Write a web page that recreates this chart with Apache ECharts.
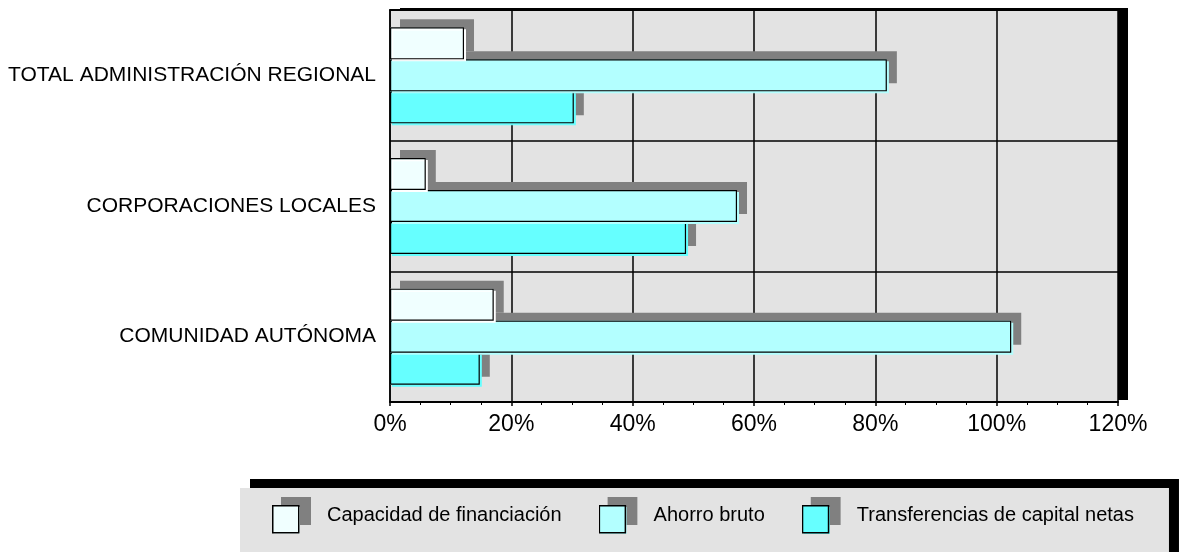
<!DOCTYPE html>
<html>
<head>
<meta charset="utf-8">
<script src="https://cdn.jsdelivr.net/npm/echarts@6/dist/echarts.min.js"></script>
<style>
  html, body { margin: 0; padding: 0; background: #fff; }
  #chart { width: 1180px; height: 552px; }
</style>
</head>
<body>
<div id="chart"></div>
<script>
// categorias (de abajo hacia arriba en el eje)
const categorias = ['COMUNIDAD AUTÓNOMA', 'CORPORACIONES LOCALES', 'TOTAL ADMINISTRACIÓN REGIONAL']
// valores en %
const capacidad = [17.1, 5.9, 12.2]
const ahorro = [102.4, 57.2, 81.9]
const transferencias = [14.8, 48.8, 30.3]
const nombres = ['Capacidad de financiación', 'Ahorro bruto', 'Transferencias de capital netas']
const xTicks = [0, 20, 40, 60, 80, 100, 120]

const colores = ['#f0ffff', '#b3ffff', '#66ffff']
const brillo = ['#ffffff', '#b3ffff', '#66ffff']

// icono de leyenda: cuadro con sombra gris
function icono (fill) {
  let svg = '<svg xmlns="http://www.w3.org/2000/svg" width="39" height="37" viewBox="0 0 39 37">' +
    '<rect x="9" y="0" width="30" height="28" fill="#808080"/>' +
    '<rect x="2" y="10" width="26" height="27" fill="' + fill + '"/>' +
    '<rect x="0.75" y="8.75" width="26" height="27" fill="' + fill + '" stroke="#000" stroke-width="1.5"/>' +
    '</svg>'
  return 'image://data:image/svg+xml;charset=utf-8,' + encodeURIComponent(svg)
}

// barra con borde (eje 0)
function barra (i, data, z) {
  return {
    name: nombres[i],
    type: 'bar',
    yAxisIndex: 0,
    data: data,
    barWidth: 32,
    barGap: '0%',
    z: z,
    itemStyle: {
      color: colores[i],
      borderColor: '#000',
      borderWidth: 1.2,
      shadowBlur: 0,
      shadowColor: brillo[i],
      shadowOffsetX: 2,
      shadowOffsetY: 2
    },
    emphasis: { disabled: true },
    silent: true,
    animation: false
  }
}

// sombra gris de la barra (eje 1, mismo layout)
function sombra (i, data, z) {
  return {
    name: nombres[i] + ' (sombra)',
    type: 'bar',
    yAxisIndex: 1,
    data: data,
    barWidth: 32,
    barGap: '0%',
    z: z,
    itemStyle: {
      color: colores[i],
      borderWidth: 0,
      shadowBlur: 0,
      shadowColor: '#808080',
      shadowOffsetX: 10,
      shadowOffsetY: -8
    },
    emphasis: { disabled: true },
    silent: true,
    animation: false
  }
}

let chart = echarts.init(document.getElementById('chart'))
chart.setOption({
  backgroundColor: '#fff',
  textStyle: { fontFamily: 'Liberation Sans, Arial, sans-serif' },
  grid: {
    left: 390,
    right: 62,
    top: 10,
    bottom: 150,
    show: true,
    backgroundColor: '#e3e3e3',
    borderWidth: 0,
    shadowBlur: 0,
    shadowColor: '#000',
    shadowOffsetX: 10,
    shadowOffsetY: -2
  },
  xAxis: [
    {
      type: 'value',
      min: xTicks[0],
      max: xTicks[xTicks.length - 1],
      interval: 20,
      axisLine: { show: true, lineStyle: { color: '#000', width: 2 } },
      axisTick: { show: true, length: 4, lineStyle: { color: '#000', width: 1.5 } },
      minorTick: { show: true, splitNumber: 4, length: 3, lineStyle: { color: '#000', width: 1 } },
      splitLine: { show: true, lineStyle: { color: '#000', width: 1.5 } },
      axisLabel: { formatter: '{value}%', fontSize: 23, color: '#000', margin: 11 }
    },
    {
      // borde superior del area
      type: 'value',
      position: 'top',
      min: xTicks[0],
      max: xTicks[xTicks.length - 1],
      interval: 20,
      axisLine: { show: true, lineStyle: { color: '#000', width: 2 } },
      axisTick: { show: false },
      axisLabel: { show: false },
      splitLine: { show: false }
    }
  ],
  yAxis: [
    {
      type: 'category',
      data: categorias,
      axisLine: { show: true, lineStyle: { color: '#000', width: 1.5 } },
      axisTick: { show: false },
      splitLine: { show: true, lineStyle: { color: '#000', width: 1.5 } },
      axisLabel: { fontSize: 21, color: '#000', margin: 14 }
    },
    {
      type: 'category',
      data: categorias,
      show: false
    }
  ],
  legend: {
    data: nombres.map((n, i) => ({ name: n, icon: icono(colores[i]) })),
    left: 240,
    top: 488,
    width: 950,
    orient: 'horizontal',
    itemWidth: 39,
    itemHeight: 37,
    itemGap: 37,
    padding: [9, 35, 30, 32],
    backgroundColor: '#e3e3e3',
    borderWidth: 0,
    shadowBlur: 0,
    shadowColor: '#000',
    shadowOffsetX: 10,
    shadowOffsetY: -9,
    itemStyle: { borderWidth: 0 },
    textStyle: { fontSize: 20, color: '#000', padding: [13, 0, 0, 11] },
    selectedMode: false
  },
  // orden de dibujo: sombra y barra de abajo primero, capacidad al final
  series: [
    barra(0, capacidad, 7),
    barra(1, ahorro, 5),
    barra(2, transferencias, 3),
    sombra(0, capacidad, 6),
    sombra(1, ahorro, 4),
    sombra(2, transferencias, 2)
  ]
})
</script>
</body>
</html>
